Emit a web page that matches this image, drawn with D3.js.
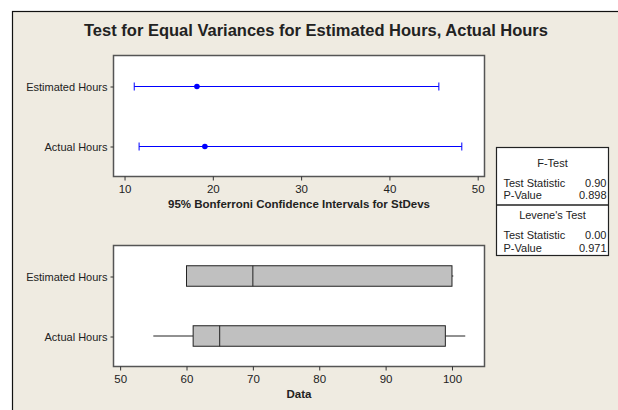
<!DOCTYPE html>
<html>
<head>
<meta charset="utf-8">
<script src="https://cdn.jsdelivr.net/npm/d3@7"></script>
<style>
  body { margin: 0; background: #fff; }
  text { font-family: "Liberation Sans", Arial, sans-serif; fill: #222; }
</style>
</head>
<body>
<div id="chart"></div>
<script>
var width = 618, height = 410;

// data
var groups = ["Estimated Hours", "Actual Hours"];
var ciLower = [11.1, 11.65];
var ciSigma = [18.2, 19.1];
var ciUpper = [45.6, 48.2];
var ciTicks = [10, 20, 30, 40, 50];

var boxMin = [60, 55];
var boxQ1 = [60, 61];
var boxMed = [70, 65];
var boxQ3 = [100, 99];
var boxMax = [100.2, 102];
var boxTicks = [50, 60, 70, 80, 90, 100];

var fTest = [["Test Statistic", "0.90"], ["P-Value", "0.898"]];
var leveneTest = [["Test Statistic", "0.00"], ["P-Value", "0.971"]];

var svg = d3.select("#chart").append("svg")
    .attr("width", width).attr("height", height);

// outer frame
svg.append("rect")
    .attr("x", 12.5).attr("y", 11.5)
    .attr("width", width).attr("height", height)
    .attr("fill", "#efebe1").attr("stroke", "#111").attr("stroke-width", 1.2);

svg.append("text")
    .attr("x", 316).attr("y", 36)
    .attr("text-anchor", "middle")
    .style("font-size", "16.5px").style("font-weight", "bold")
    .attr("fill", "#111")
    .text("Test for Equal Variances for Estimated Hours, Actual Hours");

var panelL = 113.5, panelR = 484.5;

function drawPanel(top, bottom, xDomain, ticks, title) {
    var g = svg.append("g");
    g.append("rect")
        .attr("x", panelL).attr("y", top)
        .attr("width", panelR - panelL).attr("height", bottom - top)
        .attr("fill", "#fff").attr("stroke", "#555").attr("stroke-width", 1.5);
    var x = d3.scaleLinear().domain(xDomain).range([panelL, panelR]);
    var y = d3.scalePoint().domain(groups).range([top + 31, bottom - 30]);
    var xa = g.append("g")
        .attr("transform", "translate(0," + bottom + ")")
        .call(d3.axisBottom(x).tickValues(ticks).tickSize(4).tickPadding(4));
    xa.select(".domain").remove();
    xa.selectAll("line").attr("stroke", "#333");
    xa.selectAll("text").style("font-size", "11.5px").attr("fill", "#333");
    var ya = g.append("g")
        .attr("transform", "translate(" + panelL + ",0)")
        .call(d3.axisLeft(y).tickSize(3).tickPadding(3));
    ya.select(".domain").remove();
    ya.selectAll("line").attr("stroke", "#333");
    ya.selectAll("text").style("font-size", "11px").attr("fill", "#333");
    g.append("text")
        .attr("x", (panelL + panelR) / 2).attr("y", bottom + 31)
        .attr("text-anchor", "middle")
        .style("font-size", "11.5px").style("font-weight", "bold")
        .attr("fill", "#111")
        .text(title);
    return {g: g, x: x, y: y};
}

// confidence intervals
var p1 = drawPanel(55.5, 176.5, [8.75, 50.77], ciTicks, "95% Bonferroni Confidence Intervals for StDevs");
groups.forEach(function(name, i) {
    var yy = p1.y(name);
    var x = p1.x;
    p1.g.append("line")
        .attr("x1", x(ciLower[i])).attr("x2", x(ciUpper[i]))
        .attr("y1", yy).attr("y2", yy)
        .attr("stroke", "#0000ff").attr("stroke-width", 1);
    [ciLower[i], ciUpper[i]].forEach(function(v) {
        p1.g.append("line")
            .attr("x1", x(v)).attr("x2", x(v))
            .attr("y1", yy - 4).attr("y2", yy + 4)
            .attr("stroke", "#0000ff").attr("stroke-width", 1);
    });
    p1.g.append("circle")
        .attr("cx", x(ciSigma[i])).attr("cy", yy).attr("r", 2.8)
        .attr("fill", "#0000ff");
});

// boxplots
var p2 = drawPanel(245.5, 366.5, [49, 104.9], boxTicks, "Data");
groups.forEach(function(name, i) {
    var yy = p2.y(name) - 0.5;
    var x = p2.x;
    var h = 20.5;
    p2.g.append("line")
        .attr("x1", x(boxMin[i])).attr("x2", x(boxQ1[i]))
        .attr("y1", yy).attr("y2", yy).attr("stroke", "#222");
    p2.g.append("line")
        .attr("x1", x(boxQ3[i])).attr("x2", x(boxMax[i]))
        .attr("y1", yy).attr("y2", yy).attr("stroke", "#222");
    p2.g.append("rect")
        .attr("x", x(boxQ1[i])).attr("y", yy - h / 2)
        .attr("width", x(boxQ3[i]) - x(boxQ1[i])).attr("height", h)
        .attr("fill", "#c0c0c0").attr("stroke", "#222").attr("stroke-width", 1);
    p2.g.append("line")
        .attr("x1", x(boxMed[i])).attr("x2", x(boxMed[i]))
        .attr("y1", yy - h / 2).attr("y2", yy + h / 2)
        .attr("stroke", "#222");
});

// test results box
var lg = svg.append("g");
var bx = 496.5, bw = 112, by = 147.5;
lg.append("rect").attr("x", bx).attr("y", by).attr("width", bw).attr("height", 108)
    .attr("fill", "#fff").attr("stroke", "#222").attr("stroke-width", 1.2);
lg.append("line").attr("x1", bx).attr("x2", bx + bw).attr("y1", 205).attr("y2", 205)
    .attr("stroke", "#222").attr("stroke-width", 1.5);

function testBlock(title, rows, y0) {
    lg.append("text").attr("x", bx + bw / 2).attr("y", y0)
        .attr("text-anchor", "middle").style("font-size", "11px").text(title);
    rows.forEach(function(r, k) {
        var yy = y0 + 20 + k * 12.7;
        lg.append("text").attr("x", bx + 7).attr("y", yy)
            .style("font-size", "11px").text(r[0]);
        lg.append("text").attr("x", bx + bw - 2).attr("y", yy)
            .attr("text-anchor", "end").style("font-size", "11px").text(r[1]);
    });
}
testBlock("F-Test", fTest, 166.5);
testBlock("Levene's Test", leveneTest, 219);
</script>
</body>
</html>
